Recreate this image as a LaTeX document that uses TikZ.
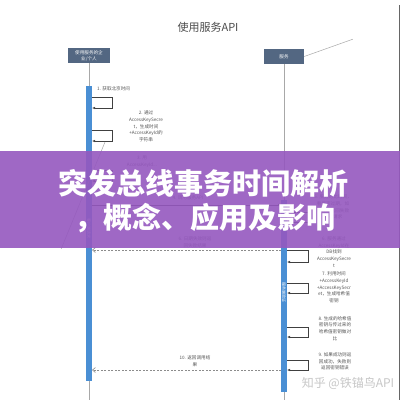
\documentclass[tikz,border=0pt]{standalone}
\usepackage{fontspec}
\setmainfont{Liberation Serif}
\newfontfamily\cjk{Noto Sans CJK SC}
\usetikzlibrary{arrows.meta,backgrounds}
\definecolor{slate}{HTML}{536782}
\definecolor{barblue}{HTML}{4A8FD4}
\definecolor{noteteal}{HTML}{3E9FBA}
\definecolor{bannerpurple}{HTML}{9558BF}
\definecolor{lifegray}{HTML}{A8A8A8}
\definecolor{labelgray}{HTML}{555555}
\tikzset{
  participant/.style={fill=slate, text=white, font=\cjk\fontsize{4.6}{6}\selectfont, align=center, inner sep=0pt, minimum width=42pt, minimum height=15pt},
  notebox/.style={text=white, font=\cjk\fontsize{4.4}{6}\selectfont, align=center, inner sep=0pt},
  actbar/.style={fill=barblue, inner sep=0pt, minimum width=6pt},
  life/.style={draw=lifegray, line width=0.6pt},
  selfloop/.style={draw=black!75, line width=0.5pt, -{Latex[length=3pt,width=2.4pt]}},
  callmsg/.style={draw=black!75, line width=0.5pt, -{Latex[length=3pt,width=2.4pt]}},
  retmsg/.style={draw=black!45, line width=0.6pt, dash pattern=on 2pt off 1.5pt, -{Straight Barb[length=3pt,width=5pt]}},
  lbl/.style={text=labelgray, font=\cjk\fontsize{4.6}{6.7}\selectfont, align=center, inner sep=0pt},
  bartext/.style={text=white, font=\cjk\fontsize{4}{5}\selectfont, inner sep=0pt, rotate=-90},
  bannertext/.style={text=white, font=\cjk\bfseries\fontsize{29}{32}\selectfont, inner sep=0pt},
}
\begin{document}
\begin{tikzpicture}[x=1pt, y=-1pt]
\useasboundingbox (0,0) rectangle (406,400);
\fill[white] (0,0) rectangle (406,400);
% right border line
\coordinate (BT) at (399,5);
\coordinate (BB) at (399,400);
\draw[black!60, line width=0.6pt] (BT) -- (BB);
% title
\node[text=black!70, font=\cjk\fontsize{11}{13}\selectfont, inner sep=0pt] (title) at (208,27) {使用服务API};
% participants
\node[participant] (PL) at (89,55.5) {使用服务的企\\业/个人};
\node[participant, minimum width=40pt] (PR) at (284,56.5) {服务};
% note top right
\node[notebox, minimum width=42pt, minimum height=18pt] (NR) at (374,34) {这是我们的服\\务};
\begin{scope}[on background layer]
\fill[noteteal] (NR.north west) -- ([xshift=-5pt]NR.north east) -- ([yshift=-5pt]NR.north east) -- (NR.south east) -- (NR.south west) -- cycle;
\end{scope}
\draw[lifegray, line width=0.5pt] ([yshift=4pt]NR.south west) -- (PR.east);
% lifelines
\coordinate (LLend) at (89,400);
\coordinate (RLend) at (284,400);
\draw[life] (PL.south) -- (LLend);
\draw[life] (PR.south) -- (RLend);
% activation bars
\node[actbar, minimum height=295pt] (LB) at (89,233.5) {};
\node[actbar, minimum height=192pt] (RB) at (284,296) {};
\node[bartext] (LBt) at (89,228) {客户端请求};
\node[bartext] (RBt) at (284,292) {服务端验证};
% left self loops
\coordinate (L1a) at (92,97);  \coordinate (L1b) at (92,108);
\coordinate (L2a) at (92,130); \coordinate (L2b) at (92,141);
\coordinate (L3a) at (92,170); \coordinate (L3b) at (92,181);
\draw[selfloop] (L1a) -- ++(20,0) |- (L1b);
\draw[selfloop] (L2a) -- ++(20,0) |- (L2b);
\draw[selfloop] (L3a) -- ++(20,0) |- (L3b);
\node[lbl, anchor=west] (t1) at (97,89) {1. 获取北京时间};
\node[lbl] (t2) at (146,126.5) {2. 通过\\AccessKeySecre\\t，生成时间\\+AccessKeyId的\\字符串};
\node[lbl] (t3) at (142,162) {3. 用\\AccessKeyId...};
% message 4
\coordinate (M4a) at (92,205); \coordinate (M4b) at (281,205);
\draw[callmsg] (M4a) -- (M4b);
\node[lbl] (t4) at (188,198) {4. 调用服务API};
% right self loop 5
\coordinate (R5a) at (287,212); \coordinate (R5b) at (287,222);
\draw[selfloop] (R5a) -- ++(21,0) |- (R5b);
\node[lbl] (t5) at (333,207) {5. 服务对比时间，\\看是否过期，如\\果过期返回失败\\结束请求};
% return 6
\coordinate (M6a) at (281,250); \coordinate (M6b) at (92,250);
\draw[retmsg] (M6a) -- (M6b);
\node[lbl] (t6) at (195,242.5) {6. 日期失效则返\\回失败结果};
% right self loops
\coordinate (R6a) at (287,250); \coordinate (R6b) at (287,262);
\coordinate (R7a) at (287,283); \coordinate (R7b) at (287,293);
\coordinate (R8a) at (287,327); \coordinate (R8b) at (287,337);
\coordinate (R9a) at (287,360); \coordinate (R9b) at (287,370);
\draw[selfloop] (R6a) -- ++(21,0) |- (R6b);
\draw[selfloop] (R7a) -- ++(21,0) |- (R7b);
\draw[selfloop] (R8a) -- ++(21,0) |- (R8b);
\draw[selfloop] (R9a) -- ++(21,0) |- (R9b);
\node[lbl] (t6r) at (334,252) {6. 服务通过\\AccessKeyId在\\DB找到\\AccessKeySecre\\t};
\node[lbl] (t7) at (334,287.5) {7. 利用时间\\+AccessKeyId\\+AccessKeySecr\\et，生成哈希值\\密钥};
\node[lbl] (t8) at (335,328.5) {8. 生成的哈希值\\密钥与传过来的\\哈希值密钥做对\\比};
\node[lbl] (t9) at (335,361.5) {9. 如果成功则返\\回成功，失败则\\返回密钥错误};
% return 10
\coordinate (M10a) at (281,370); \coordinate (M10b) at (92,370);
\draw[retmsg] (M10a) -- (M10b);
\node[lbl] (t10) at (195,361) {10. 返回调用结\\果};
% left note
\node[notebox, minimum width=58pt, minimum height=34pt] (NL) at (44,266) {把 哈希值密钥+\\（时间\\+accessKeyId）利\\用AccessKeySecret\\密钥生成};
\begin{scope}[on background layer]
\fill[noteteal] (NL.north west) -- ([xshift=-5pt]NL.north east) -- ([yshift=-5pt]NL.north east) -- (NL.south east) -- (NL.south west) -- cycle;
\end{scope}
\coordinate (NLc) at (105,142);
\draw[lifegray, line width=0.5pt] ([xshift=-12pt]NL.north east) -- (NLc);
% watermark
\node[text=black!22, font=\cjk\fontsize{12}{14}\selectfont, inner sep=0pt] (wm) at (348,383) {知乎 @铁锚鸟API};
% banner
\fill[bannerpurple, opacity=0.9] (0,151) rectangle (400,248);
\node[bannertext] (bt1) at (203,183) {突发总线事务时间解析};
\node[bannertext] (bt2) at (205,218) {，概念、应用及影响};
\end{tikzpicture}
\end{document}
